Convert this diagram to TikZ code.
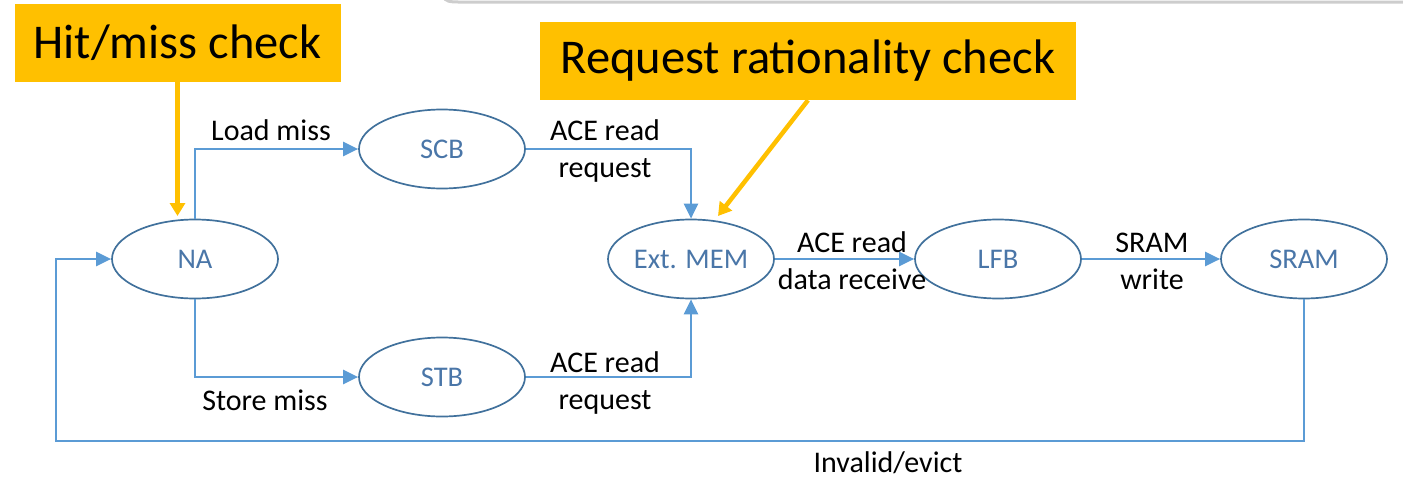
\documentclass[tikz,border=0pt]{standalone}
\usepackage{fontspec}
\setmainfont{Carlito}
\usetikzlibrary{arrows.meta,shapes.geometric}
\definecolor{conn}{HTML}{5B9BD5}
\definecolor{edgeblue}{HTML}{41719C}
\definecolor{ntext}{HTML}{4A76A8}
\definecolor{callout}{HTML}{FFC000}
\definecolor{framegray}{HTML}{CDCDCD}
\begin{document}
\begin{tikzpicture}[x=1pt,y=-1pt,
  state/.style={ellipse,draw=edgeblue,line width=1.7pt,minimum width=166pt,minimum height=79pt,inner sep=0pt,text=ntext,font=\fontsize{28.5}{30}\selectfont},
  lbl/.style={font=\fontsize{30}{37}\selectfont,align=center,text=black,inner sep=0pt},
  flow/.style={draw=conn,line width=2.5pt,-{Triangle[length=15pt,width=14pt]}},
  note/.style={fill=callout,font=\fontsize{48.5}{50}\selectfont,inner sep=0pt,text=black},
  hint/.style={draw=callout,line width=4.5pt,-{Triangle[length=13pt,width=15pt]}}]
\useasboundingbox (0,0) rectangle (1403,479);
% frame edge at the top
\draw[framegray,line width=3pt] (444,-4) to[out=-90,in=180] (458,2) -- (1403,2);
% callouts
\node[note,minimum width=326pt,minimum height=78pt] (hit) at (177.5,43) {Hit/miss check};
\node[note,minimum width=536pt,minimum height=78pt] (req) at (808,61) {Request rationality check};
% states
\node[state] (na) at (195,259) {NA};
\node[state] (scb) at (442,149) {SCB};
\node[state] (stb) at (442,377) {STB};
\node[state] (mem) at (691,259) {Ext. MEM};
\node[state] (lfb) at (998,259) {LFB};
\node[state] (sram) at (1304,259) {SRAM};
% connectors
\draw[flow] (na.north) |- (scb.west);
\draw[flow] (na.south) |- (stb.west);
\draw[flow] (scb.east) -| (mem.north);
\draw[flow] (stb.east) -| (mem.south);
\draw[flow] (mem.east) -- (lfb.west);
\draw[flow] (lfb.east) -- (sram.west);
\coordinate (loopR) at (1304,441);
\coordinate (loopL) at (56,441);
\draw[flow] (sram.south) -- (loopR) -- (loopL) |- (na.west);
% callout arrows
\coordinate (hitend) at (177.5,216);
\coordinate (reqend) at (718,216);
\draw[hint] (hit.south) -- (hitend);
\draw[hint] (req.south) -- (reqend);
% labels
\node[lbl] (l1) at (271,130) {Load miss};
\node[lbl] (l2) at (265,400) {Store miss};
\node[lbl] (l3) at (605,151) {ACE read\\request};
\node[lbl] (l4) at (605,383) {ACE read\\request};
\node[lbl] (l5) at (852,261) {ACE read\\data receive};
\node[lbl] (l6) at (1152,261) {SRAM\\write};
\node[lbl] (l7) at (888,463) {Invalid/evict};
\end{tikzpicture}
\end{document}
